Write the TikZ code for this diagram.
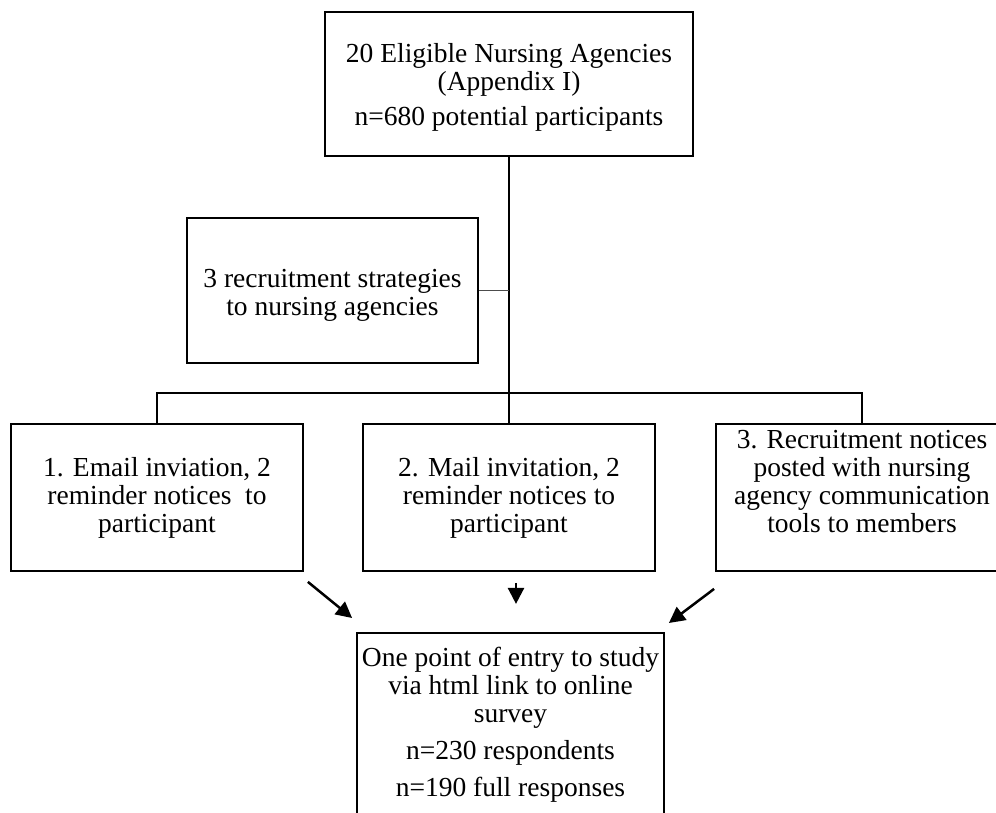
\documentclass[tikz,border=0pt]{standalone}
\usepackage{fontspec}
\setmainfont{Liberation Serif}
\usetikzlibrary{arrows.meta,calc}

\begin{document}
\begin{tikzpicture}[x=1pt,y=-1pt,
    stagebox/.style={draw,line width=1.8pt,align=center,inner sep=2pt,
      minimum width=292pt,minimum height=147pt,font=\fontsize{27.5}{28}\selectfont},
    flowline/.style={line width=1.4pt},
    feedarrow/.style={line width=2.5pt,-{Triangle[length=16pt,width=16pt]}}]
 	\useasboundingbox (0,0) rectangle (996,813);
 	\clip (0,0) rectangle (996,813);
 	% boxes
 	\node[stagebox,minimum width=368pt,minimum height=144pt,text depth=0pt] (agencies) at (509,84)
 		{20 Eligible Nursing Agencies\\(Appendix I)\\[7pt]n=680 potential participants};
 	\node[stagebox,minimum width=291pt,minimum height=145pt,text height=56pt] (strategies) at (332.5,290.5)
 		{3 recruitment strategies\\to nursing agencies};
 	\node[stagebox] (email) at (157,497.5) {1. Email inviation, 2\\reminder notices~ to\\participant};
 	\node[stagebox] (mail) at (509,497.5) {2. Mail invitation, 2\\reminder notices to\\participant};
 	\node[stagebox,text depth=32pt] (posted) at (862,497.5)
 		{3. Recruitment notices\\posted with nursing\\agency communication\\tools to members};
 	\node[stagebox,anchor=north,minimum width=307pt,minimum height=0pt,inner ysep=14pt,text depth=20pt] (entry) at (510.5,632)
 		{One point of entry to study\\via html link to online\\survey\\[9pt]n=230 respondents\\[9pt]n=190 full responses};
 	% tree lines
 	\draw[flowline] (agencies.south) -- (mail.north);
 	\draw[flowline] (email.north) -- ++(0,-30) -| (posted.north);
 	\draw[line width=1pt,gray!60!black] (strategies.east) -- (strategies.east -| agencies.south);
 	% arrows into the survey
 	\coordinate (emailtail) at ($(email.south east)+(4,10)$);
 	\coordinate (emailtip) at ($(entry.north west)+(-4,-14)$);
 	\coordinate (mailtail) at ($(mail.south)+(7,11)$);
 	\coordinate (mailtip) at ($(mail.south)+(7,32)$);
 	\coordinate (postedtail) at ($(posted.south west)+(-1,17)$);
 	\coordinate (postedtip) at ($(entry.north east)+(4,-9)$);
 	\draw[feedarrow] (emailtail) -- (emailtip);
 	\draw[feedarrow] (mailtail) -- (mailtip);
 	\draw[feedarrow] (postedtail) -- (postedtip);
\end{tikzpicture}
\end{document}
